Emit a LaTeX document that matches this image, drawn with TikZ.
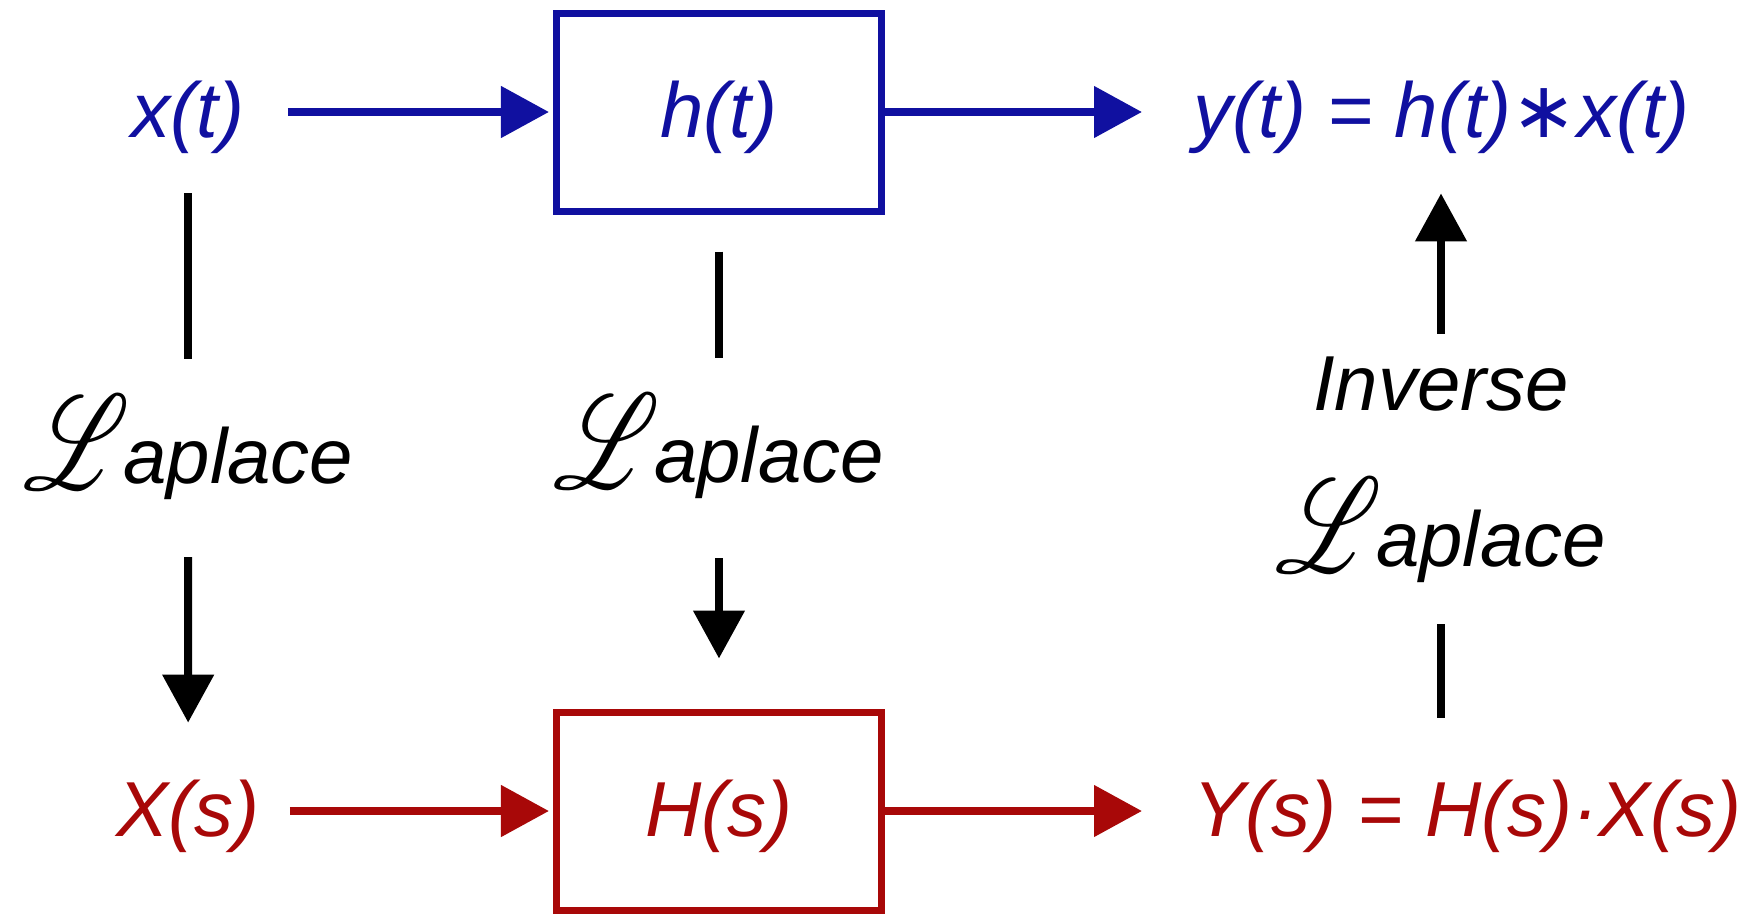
\documentclass[tikz,border=0pt]{standalone}
\usepackage{fontspec}
\setmainfont{Liberation Sans}
\newfontfamily\symfont{DejaVu Sans}
\usepackage{mathrsfs}
\DeclareFontFamily{U}{rsfs}{\skewchar\font127 }
\DeclareFontShape{U}{rsfs}{m}{n}{<-> rsfs10}{}
\usetikzlibrary{arrows.meta,positioning}
\definecolor{ctime}{RGB}{16,16,160}
\definecolor{cfreq}{RGB}{168,8,8}
\newcommand{\Lap}{\raisebox{-3pt}{\fontsize{58}{58}\selectfont\scalebox{0.86}[1.16]{$\mathscr{L}$}}\kern-3pt aplace}

\begin{document}
\begin{tikzpicture}[
  font=\fontsize{39}{47}\selectfont\itshape,
  sig/.style={inner sep=0pt, text height=30pt, text depth=5pt},
  sys/.style={draw, line width=3.5pt, minimum width=162.5pt, minimum height=99pt,
              inner sep=0pt, text height=30pt, text depth=5pt},
  lap/.style={inner sep=0pt, text height=46pt, text depth=10pt},
  ln/.style={line width=4pt},
  ar/.style={line width=4pt, -{Triangle[length=24pt,width=25pt]}},
]
\useasboundingbox (-359.5pt,56pt) rectangle (520.5pt,-402pt);

% --- time domain ---
\node[sys, draw=ctime, text=ctime] (ht) {h(t)};
\node[sig, text=ctime, left=154pt of ht] (xt) {x(t)};
\node[sig, text=ctime, right=154pt of ht] (yt) {y(t) = h(t){\symfont ∗}x(t)};
\draw[ar, ctime, shorten <=21.5pt, shorten >=2pt] (xt) -- (ht);
\draw[ar, ctime, shorten >=25.5pt] (ht) -- (yt);

% --- s domain ---
\node[sys, draw=cfreq, text=cfreq, below=247pt of ht] (Hs) {H(s)};
\node[sig, text=cfreq, left=146.5pt of Hs] (Xs) {X(s)};
\node[sig, text=cfreq, right=154pt of Hs] (Ys) {Y(s) = H(s)·X(s)};
\draw[ar, cfreq, shorten <=15pt, shorten >=2pt] (Xs) -- (Hs);
\draw[ar, cfreq, shorten >=25.5pt] (Hs) -- (Ys);

% --- transforms ---
\node[lap, below=122pt of xt] (lapx) {\Lap};
\node[lap, below=88pt of ht] (laph) {\Lap};
\node[align=center, inner sep=0pt] (lapy) at (361pt,-179pt) {Inverse\\[31pt]\Lap};
\draw[ln, shorten <=23pt, shorten >=16pt] (xt) -- (lapx);
\draw[ar, shorten <=26.5pt, shorten >=26.5pt] (lapx) -- (Xs);
\draw[ln, shorten <=18.5pt, shorten >=16.5pt] (ht) -- (laph);
\draw[ar, shorten <=27.5pt, shorten >=25pt] (laph) -- (Hs);
\draw[ln, shorten <=29pt, shorten >=20.5pt] (lapy.south |- Ys.north) -- (lapy.south);
\draw[ar, shorten <=11.5pt, shorten >=23pt] (lapy.north) -- (lapy.north |- yt.south);
\end{tikzpicture}
\end{document}
